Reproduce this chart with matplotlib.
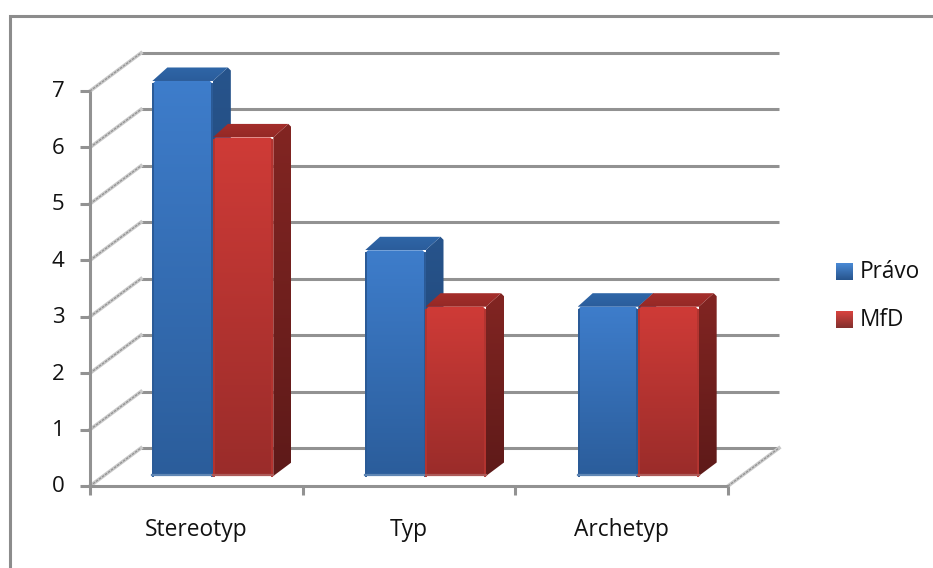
import numpy as np
import matplotlib
matplotlib.use("Agg")
import matplotlib.pyplot as plt
from matplotlib.patches import Polygon, Rectangle
from matplotlib.colors import LinearSegmentedColormap

categories = ["Stereotyp", "Typ", "Archetyp"]
pravo = [7, 4, 3]
mfd = [6, 3, 3]
y_ticks = [0, 1, 2, 3, 4, 5, 6, 7]

W, H = 933, 568
# one category is 212.67 px wide, one value unit is 56.43 px high
CAT_PX = 212.67
VAL_PX = 56.43
X0, Y0 = 90, 486

plt.rcParams["font.family"] = ["Open Sans", "DejaVu Sans"]

fig = plt.figure(figsize=(W / 100, H / 100), dpi=100)
ax = fig.add_axes([0, 0, 1, 1])
ax.set_xlim(-X0 / CAT_PX, (W - X0) / CAT_PX)
ax.set_ylim((Y0 - H) / VAL_PX, Y0 / VAL_PX)
ax.axis("off")

# depth of the floor and of the bars, in data units
WALL_DX, WALL_DY = 51 / CAT_PX, 38 / VAL_PX
BAR_DX, BAR_DY = 18 / CAT_PX, 13.5 / VAL_PX
BAR_SHIFT_X, BAR_SHIFT_Y = 16.5 / CAT_PX, 10 / VAL_PX
BAR_W = 60.5 / CAT_PX
EDGE_X, EDGE_Y = 3 / CAT_PX, 3 / VAL_PX

GRID = "#929292"
GRID_LIGHT = "#c9c9c9"
TEXT = "#111111"
n_cat = len(categories)


def gradient(points, top, bottom, z):
    # polygon filled with a vertical colour ramp
    points = np.array(points)
    cmap = LinearSegmentedColormap.from_list("ramp", [top, bottom])
    ext = [points[:, 0].min(), points[:, 0].max(), points[:, 1].min(), points[:, 1].max()]
    img = ax.imshow(np.linspace(0, 1, 128).reshape(-1, 1), cmap=cmap, extent=ext,
                    origin="upper", aspect="auto", zorder=z, interpolation="bilinear")
    clip = Polygon(points, closed=True, transform=ax.transData, facecolor="none", edgecolor="none")
    ax.add_patch(clip)
    img.set_clip_path(clip)


def draw_bar(x, value, cols, z):
    left = x + BAR_SHIFT_X
    right = left + BAR_W
    low = BAR_SHIFT_Y
    high = value + BAR_SHIFT_Y
    # side face
    gradient([(right, low), (right + BAR_DX, low + BAR_DY), (right + BAR_DX, high + BAR_DY - EDGE_Y),
              (right + BAR_DX - EDGE_X, high + BAR_DY), (right, high)],
             cols["side_top"], cols["side_bottom"], z)
    # top face, slightly rounded at the corners
    gradient([(left, high), (left + BAR_DX - EDGE_X, high + BAR_DY), (right + BAR_DX - EDGE_X, high + BAR_DY),
              (right, high)],
             cols["cap"], cols["cap_dark"], z + 0.1)
    # front face
    gradient([(left, low), (right, low), (right, high - EDGE_Y), (right - EDGE_X, high),
              (left + EDGE_X, high), (left, high - EDGE_Y)],
             cols["front_top"], cols["front_bottom"], z + 0.2)
    # bevel strips on the front edges
    ax.plot([left + 0.3 * EDGE_X] * 2, [low, high - EDGE_Y], color=cols["edge"], lw=1.4, zorder=z + 0.3)
    ax.plot([right - 0.3 * EDGE_X] * 2, [low, high - EDGE_Y], color=cols["edge"], lw=1.4, zorder=z + 0.3)
    ax.plot([left, right], [low + 0.3 * EDGE_Y] * 2, color=cols["foot"], lw=1.6, zorder=z + 0.3)


blue = {"front_top": "#3e7dcb", "front_bottom": "#2b5d9b", "side_top": "#27548c", "side_bottom": "#1d3f6c",
        "cap": "#2f66a8", "cap_dark": "#2b5d9b", "edge": "#2a5a96", "foot": "#5f86b4"}
red = {"front_top": "#cf3b37", "front_bottom": "#9a2c2a", "side_top": "#822522", "side_bottom": "#5e1a19",
       "cap": "#a52e2b", "cap_dark": "#942926", "edge": "#b33430", "foot": "#ad5a58"}

# back wall gridlines with their slanted return to the axis
for t in y_ticks:
    ax.plot([WALL_DX, n_cat + WALL_DX], [t + WALL_DY] * 2, color=GRID, lw=2.2, zorder=1,
            solid_capstyle="butt")
    ax.plot([0, WALL_DX], [t, t + WALL_DY], color=GRID_LIGHT, lw=2.6, zorder=1)
    ax.plot([0, WALL_DX], [t, t + WALL_DY], color=GRID, lw=0.9, zorder=1.1, ls=(0, (2, 1)))
    ax.plot([-10 / CAT_PX, 0], [t, t], color=GRID, lw=2.2, zorder=2, solid_capstyle="butt")
    ax.text(-32 / CAT_PX, t - 1 / VAL_PX, str(t), ha="center", va="center", fontsize=16, color=TEXT)

# floor edge on the right
ax.plot([n_cat, n_cat + WALL_DX], [0, WALL_DY], color=GRID_LIGHT, lw=2.6, zorder=1)
ax.plot([n_cat, n_cat + WALL_DX], [0, WALL_DY], color=GRID, lw=0.9, zorder=1.1, ls=(0, (2, 1)))

# axes at the front of the floor
ax.plot([0, 0], [-9 / VAL_PX, 7], color=GRID, lw=2.2, zorder=2, solid_capstyle="butt")
ax.plot([0, n_cat], [0, 0], color=GRID, lw=2.2, zorder=2, solid_capstyle="butt")
for i in range(1, n_cat + 1):
    ax.plot([i, i], [-9 / VAL_PX, 0], color=GRID, lw=2.2, zorder=2, solid_capstyle="butt")

for i, name in enumerate(categories):
    draw_bar(i + 0.5 - BAR_W, pravo[i], blue, 3 + i * 2)
    draw_bar(i + 0.5, mfd[i], red, 4 + i * 2)
    ax.text(i + 0.5, -44 / VAL_PX, name, ha="center", va="center", fontsize=16.4, color=TEXT)


def legend_key(px, py, top, bottom, name):
    x = (px - X0) / CAT_PX
    y = (Y0 - py) / VAL_PX
    w, h = 17 / CAT_PX, 17 / VAL_PX
    gradient([(x, y), (x + w, y), (x + w, y - h), (x, y - h)], top, bottom, 3)
    ax.text((px + 24 - X0) / CAT_PX, y - h / 2, name, ha="left", va="center",
            fontsize=16.3, color=TEXT)


legend_key(836, 263, "#4a8ad6", "#27548c", "Právo")
legend_key(836, 311, "#d9433f", "#82302d", "MfD")

# chart frame, only the top and left edges are inside the canvas
ax.add_patch(Rectangle(((10 - X0) / CAT_PX, (Y0 - H - 20) / VAL_PX), (W + 40) / CAT_PX, (H + 20 - 16) / VAL_PX,
                       fill=False, edgecolor="#8c8c8c", lw=2.2, zorder=10))

ax.set_xlim(-X0 / CAT_PX, (W - X0) / CAT_PX)
ax.set_ylim((Y0 - H) / VAL_PX, Y0 / VAL_PX)
fig.savefig("out.png", dpi=100, facecolor="white")
